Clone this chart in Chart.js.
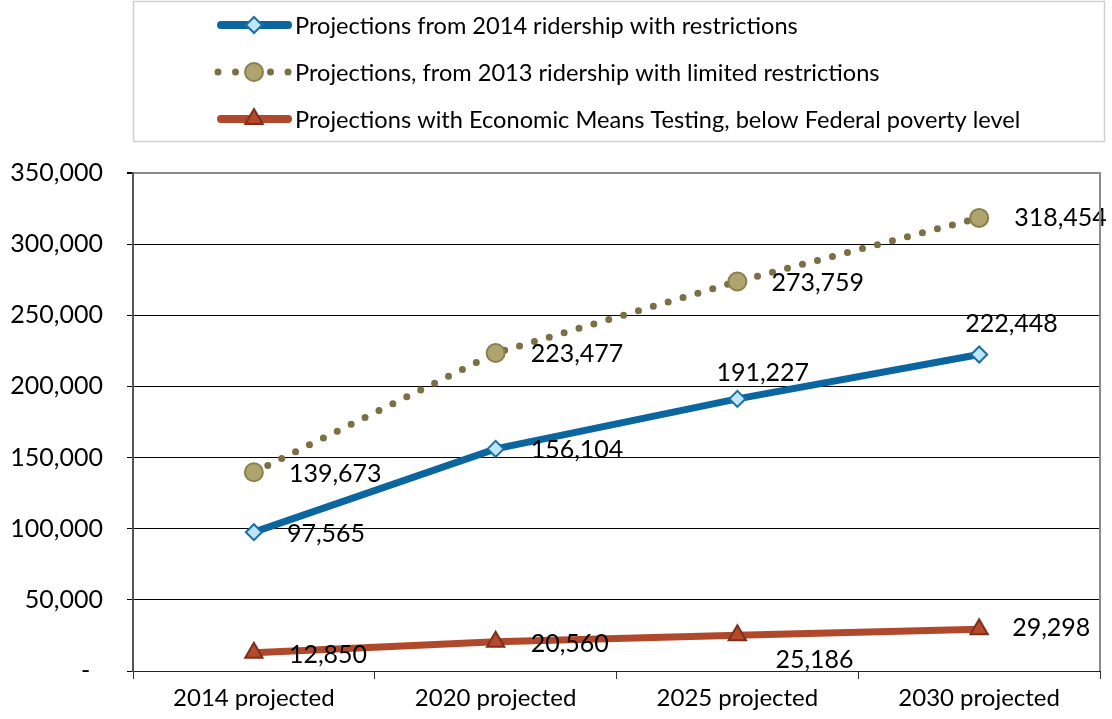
<!DOCTYPE html>
<html lang="en">
<head>
    <meta charset="UTF-8">
    <title>Ridership Projections</title>
    <script src="https://cdn.jsdelivr.net/npm/chart.js"></script>
    <style>
        html, body { margin: 0; padding: 0; background: #fff; }
        #wrap { width: 1112px; height: 719px; }
    </style>
</head>
<body>
    <div id="wrap"><canvas id="ridership" width="1112" height="719"></canvas></div>

    <script>
        const categories = ['2014 projected', '2020 projected', '2025 projected', '2030 projected'];
        const restricted2014 = [97565, 156104, 191227, 222448];
        const limited2013 = [139673, 223477, 273759, 318454];
        const meansTested = [12850, 20560, 25186, 29298];
        const yTicks = [0, 50000, 100000, 150000, 200000, 250000, 300000, 350000];

        const seriesNames = [
            'Projections from 2014 ridership with restrictions',
            'Projections, from 2013 ridership with limited restrictions',
            'Projections with Economic Means Testing, below Federal poverty level'
        ];

        const FONT = 'Lato, "DejaVu Sans", sans-serif';

        // label offsets (left edge / vertical centre) relative to each point
        const labelOffsets = [
            [[33, 2], [35, 1], [-21, -26], [-14, -31]],
            [[35, 2], [35, 1], [34, 1], [35, 0]],
            [[35, 2], [35, 2], [38, 25], [33, -1]]
        ];

        const styles = [
            { line: '#0B66A0', width: 7, dash: [], point: 'rectRot', radius: 8, fill: '#BFE6FB', stroke: '#1A6EA3' },
            { line: '#7B7045', width: 7, dash: [0, 15.5], point: 'circle', radius: 9, fill: '#ADA46E', stroke: '#8A7F4F' },
            { line: '#B0492B', width: 7, dash: [], point: 'triangle', radius: 10, fill: '#B44A2A', stroke: '#7D2F1C' }
        ];

        const fmt = v => v.toLocaleString('en-US');

        const boxAndLabels = {
            id: 'boxAndLabels',
            afterDatasetsDraw(chart) {
                const ctx = chart.ctx;
                ctx.save();
                ctx.font = '25px ' + FONT;
                ctx.fillStyle = '#000';
                ctx.textAlign = 'left';
                ctx.textBaseline = 'middle';
                chart.data.datasets.forEach((ds, i) => {
                    chart.getDatasetMeta(i).data.forEach((pt, j) => {
                        const off = labelOffsets[i][j];
                        ctx.fillText(fmt(ds.data[j]), pt.x + off[0], pt.y + off[1]);
                    });
                });
                ctx.restore();
            },
            afterDraw(chart) {
                const ctx = chart.ctx;
                const area = chart.chartArea;
                ctx.save();
                // plot border on the right
                ctx.strokeStyle = '#8c8c8c';
                ctx.lineWidth = 2;
                ctx.beginPath();
                ctx.moveTo(area.right, area.top - 1);
                ctx.lineTo(area.right, area.bottom);
                ctx.stroke();

                // legend frame
                ctx.strokeStyle = '#d0d0d0';
                ctx.lineWidth = 1.5;
                ctx.strokeRect(133.5, 1.5, 971, 140);

                const rows = [25, 72, 119];
                styles.forEach((s, i) => {
                    const y = rows[i];
                    ctx.strokeStyle = s.line;
                    ctx.lineWidth = i === 1 ? 7 : 8;
                    ctx.lineCap = 'round';
                    ctx.setLineDash(i === 1 ? [0, 17.5] : []);
                    ctx.beginPath();
                    ctx.moveTo(i === 1 ? 218 : 221, y);
                    ctx.lineTo(i === 1 ? 290 : 288, y);
                    ctx.stroke();
                    ctx.setLineDash([]);
                    ctx.fillStyle = s.fill;
                    ctx.strokeStyle = s.stroke;
                    ctx.lineWidth = 2;
                    Chart.helpers.drawPoint(ctx, {
                        pointStyle: s.point, radius: s.radius, borderWidth: 2, rotation: 0
                    }, 254, y);
                    ctx.fillStyle = '#000';
                    ctx.font = '23.6px ' + FONT;
                    ctx.textAlign = 'left';
                    ctx.textBaseline = 'middle';
                    ctx.fillText(seriesNames[i], 295, y + 1);
                });
                ctx.restore();
            }
        };

        const datasets = [restricted2014, limited2013, meansTested].map((vals, i) => ({
            label: seriesNames[i],
            data: vals,
            borderColor: styles[i].line,
            borderWidth: styles[i].width,
            borderDash: styles[i].dash,
            borderCapStyle: 'round',
            tension: 0,
            pointStyle: styles[i].point,
            pointRadius: styles[i].radius,
            pointHoverRadius: styles[i].radius,
            pointBackgroundColor: styles[i].fill,
            pointBorderColor: styles[i].stroke,
            pointBorderWidth: 2,
            order: 3 - i
        }));

        new Chart(document.getElementById('ridership'), {
            type: 'line',
            data: { labels: categories, datasets: datasets },
            plugins: [boxAndLabels],
            options: {
                responsive: false,
                animation: false,
                layout: { padding: { top: 173, right: 9, left: 0, bottom: 0 } },
                plugins: { legend: { display: false }, tooltip: { enabled: false } },
                scales: {
                    x: {
                        offset: true,
                        grid: { drawOnChartArea: false, offset: true, tickLength: 8, color: '#333', lineWidth: 1 },
                        border: { color: '#222', width: 1 },
                        ticks: { color: '#000', font: { family: FONT, size: 24 }, padding: 5, maxRotation: 0 },
                        afterFit(scale) { scale.height = 48; }
                    },
                    y: {
                        min: 0,
                        max: 350000,
                        afterBuildTicks(scale) { scale.ticks = yTicks.map(v => ({ value: v })); },
                        grid: {
                            color: c => c.tick && c.tick.value === 350000 ? '#8c8c8c' : '#000',
                            lineWidth: c => c.tick && c.tick.value === 350000 ? 2 : 1,
                            tickColor: '#000',
                            tickLength: 6
                        },
                        border: { color: '#555', width: 2 },
                        ticks: {
                            color: '#000',
                            font: { family: FONT, size: 25 },
                            padding: 24,
                            callback: v => v === 0 ? '-  ' : fmt(v)
                        },
                        afterFit(scale) { scale.width = 133; }
                    }
                }
            }
        });
    </script>
</body>
</html>
